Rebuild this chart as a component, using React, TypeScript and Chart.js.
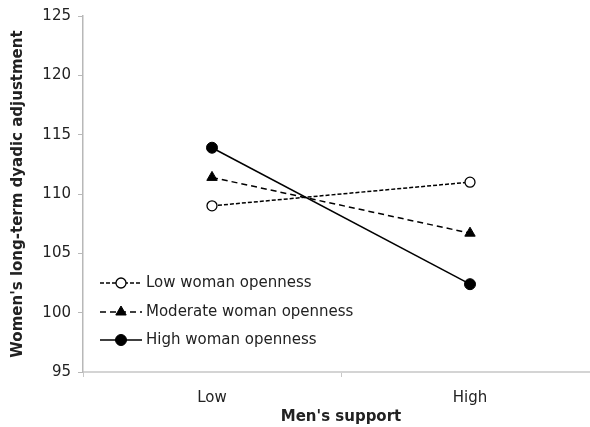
import React, { useEffect, useRef } from 'react';
import { Chart, registerables } from 'chart.js';
import { drawPoint } from 'chart.js/helpers';

Chart.register(...registerables);

// data
const supportLevels = ['Low', 'High'];
const lowOpenness = [109.0, 111.0];
const moderateOpenness = [111.4, 106.7];
const highOpenness = [113.9, 102.4];
const seriesNames = ['Low woman openness', 'Moderate woman openness', 'High woman openness'];

const FONT = '"DejaVu Sans", Verdana, sans-serif';
const INK = '#222';

// legend drawn inside the plot, line sample + marker like the original
const lineLegend = {
  id: 'lineLegend',
  afterDraw(chart: Chart) {
    const ctx = chart.ctx;
    const rows = [283, 312, 340];
    const x0 = 100;
    const x1 = 142;
    chart.data.datasets.forEach((ds: any, i: number) => {
      const y = rows[i];
      ctx.save();
      ctx.strokeStyle = ds.borderColor;
      ctx.lineWidth = ds.borderWidth;
      ctx.setLineDash(ds.borderDash || []);
      ctx.beginPath();
      ctx.moveTo(x0, y);
      ctx.lineTo(x1, y);
      ctx.stroke();
      ctx.setLineDash([]);
      ctx.fillStyle = ds.pointBackgroundColor;
      ctx.strokeStyle = ds.pointBorderColor;
      ctx.lineWidth = ds.pointBorderWidth;
      drawPoint(ctx, { pointStyle: ds.pointStyle, radius: ds.pointRadius, rotation: 0, borderWidth: ds.pointBorderWidth }, 121, y);
      ctx.fillStyle = INK;
      ctx.font = `15px ${FONT}`;
      ctx.textBaseline = 'middle';
      ctx.textAlign = 'left';
      ctx.fillText(ds.label, x1 + 4, y);
      ctx.restore();
    });
  },
};

const App = () => {
  const canvasRef = useRef<HTMLCanvasElement | null>(null);
  const chartRef = useRef<Chart | null>(null);

  useEffect(() => {
    if (chartRef.current) chartRef.current.destroy();
    const ctx = canvasRef.current?.getContext('2d');
    if (!ctx) return;

    chartRef.current = new Chart(ctx, {
      type: 'line',
      data: {
        labels: supportLevels,
        datasets: [
          {
            label: seriesNames[0],
            data: lowOpenness,
            borderColor: '#000',
            borderWidth: 1.5,
            borderDash: [4, 2],
            pointStyle: 'circle',
            pointRadius: 5,
            pointBackgroundColor: '#fff',
            pointBorderColor: '#000',
            pointBorderWidth: 1.3,
          },
          {
            label: seriesNames[1],
            data: moderateOpenness,
            borderColor: '#000',
            borderWidth: 1.5,
            borderDash: [6, 4],
            pointStyle: 'triangle',
            pointRadius: 6,
            pointBackgroundColor: '#000',
            pointBorderColor: '#000',
            pointBorderWidth: 1,
          },
          {
            label: seriesNames[2],
            data: highOpenness,
            borderColor: '#000',
            borderWidth: 1.5,
            pointStyle: 'circle',
            pointRadius: 5.5,
            pointBackgroundColor: '#000',
            pointBorderColor: '#000',
            pointBorderWidth: 1,
          },
        ],
      },
      options: {
        animation: false,
        responsive: false,
        devicePixelRatio: 1,
        layout: { padding: { top: 13, left: 0, right: 0, bottom: 0 } },
        plugins: {
          legend: { display: false },
          tooltip: { enabled: false },
        },
        scales: {
          x: {
            type: 'category',
            offset: true,
            grid: { offset: true, drawOnChartArea: false, tickLength: 5, color: '#c8c8c8' },
            border: { color: '#d4d4d4', width: 2 },
            ticks: { color: INK, font: { family: FONT, size: 15 }, padding: 12 },
            title: {
              display: true,
              text: "Men's support",
              color: INK,
              font: { family: FONT, size: 15, weight: 'bold' },
              padding: { top: 0, bottom: 1 },
            },
            afterFit: (s: any) => { s.height = 55; },
          },
          y: {
            min: 95,
            max: 125,
            ticks: { stepSize: 5, color: INK, font: { family: FONT, size: 15 }, padding: 7 },
            grid: { drawOnChartArea: false, tickLength: 5, color: '#b8b8b8' },
            border: { color: '#b8b8b8', width: 1.5 },
            title: {
              display: true,
              text: "Women's long-term dyadic adjustment",
              color: INK,
              font: { family: FONT, size: 15, weight: 'bold' },
              padding: { top: 9, bottom: 0 },
            },
            afterFit: (s: any) => { s.width = 83; },
          },
        },
      },
      plugins: [lineLegend],
    });

    return () => {
      if (chartRef.current) {
        chartRef.current.destroy();
        chartRef.current = null;
      }
    };
  }, []);

  return (
    <div style={{ position: 'absolute', left: 0, top: 0, width: 590, height: 427, overflow: 'hidden', background: '#fff' }}>
      <canvas ref={canvasRef} width={606} height={427} style={{ display: 'block' }}></canvas>
    </div>
  );
};

export default App;
